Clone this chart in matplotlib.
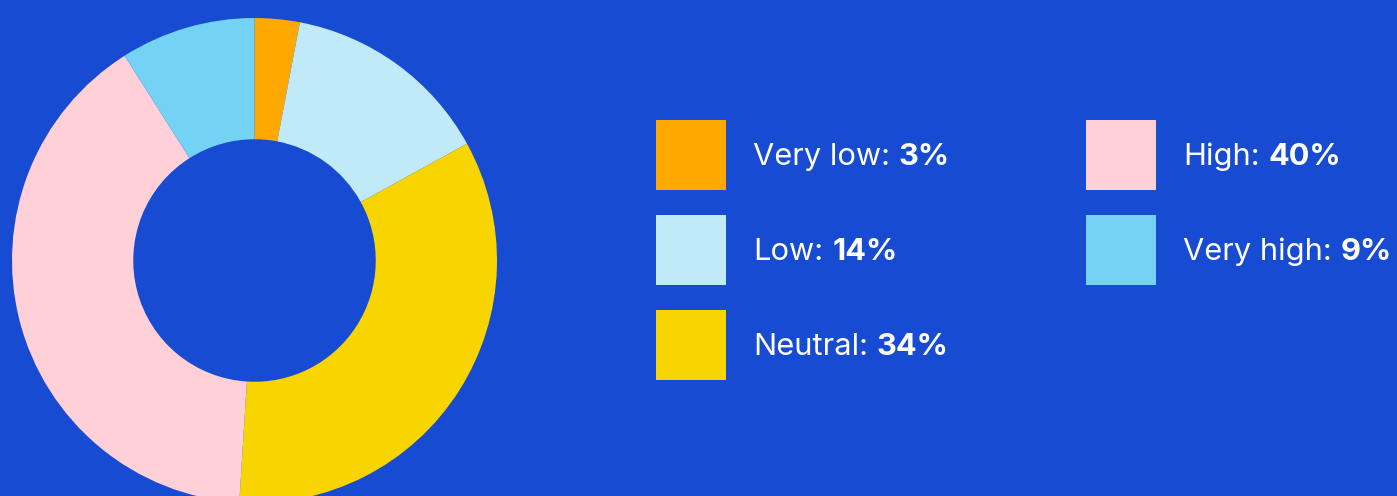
import matplotlib.pyplot as plt
from matplotlib.patches import Rectangle

# sentiment split, clockwise from 12 o'clock
labels = ["Very low", "Low", "Neutral", "High", "Very high"]
shares = [3, 14, 34, 40, 9]
colors = ["#FFA800", "#C0EAF7", "#F8D500", "#FFD0D8", "#74D3F4"]

BG = "#164BD2"
W, H = 1397, 496

plt.rcParams['font.family'] = ['Inter', 'DejaVu Sans']

fig = plt.figure(figsize=(W / 100, H / 100), dpi=100, facecolor=BG)

# donut
r_px = 242.5
cx, cy = 254.5, 260.5
ax = fig.add_axes([(cx - r_px) / W, (H - cy - r_px) / H, 2 * r_px / W, 2 * r_px / H])
ax.pie(shares, colors=colors, startangle=90, counterclock=False,
       radius=1, wedgeprops=dict(width=0.5, linewidth=0))
ax.set_xlim(-1, 1)
ax.set_ylim(-1, 1)
ax.set_aspect('equal')
ax.axis('off')

# legend drawn in pixel space
lg = fig.add_axes([0, 0, 1, 1])
lg.set_xlim(0, W)
lg.set_ylim(H, 0)
lg.axis('off')
lg.patch.set_alpha(0)

col_x = [656, 1086]
row_y = [120, 215, 310]
box = 70
fs = 22.2
renderer = fig.canvas.get_renderer()

for i, (lab, val, col) in enumerate(zip(labels, shares, colors)):
    x0 = col_x[i // 3]
    y0 = row_y[i % 3]
    lg.add_patch(Rectangle((x0, y0), box, box, facecolor=col, edgecolor='none'))
    base = y0 + 45
    t1 = lg.text(x0 + 97, base, f"{lab}:", color='white', fontsize=fs,
                 va='baseline', ha='left')
    bb = t1.get_window_extent(renderer=renderer)
    lg.text(bb.x1 + 9, base, f"{val}%", color='white', fontsize=fs,
            fontweight='bold', va='baseline', ha='left')

fig.savefig("out.png", dpi=100, facecolor=BG)
